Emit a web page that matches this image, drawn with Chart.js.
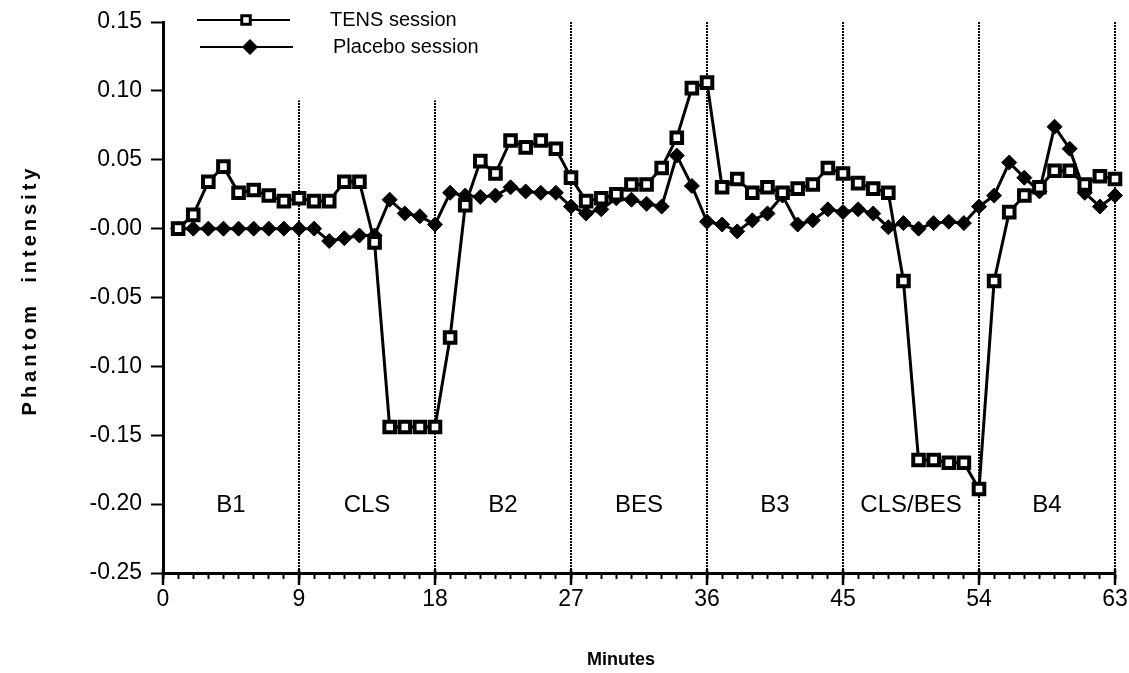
<!DOCTYPE html>
<html>
<head>
<meta charset="utf-8">
<script src="https://cdn.jsdelivr.net/npm/chart.js@4.4.0/dist/chart.umd.min.js"></script>
<style>
  html, body { margin: 0; padding: 0; background: #fff; }
  #wrap { width: 1129px; height: 673px; }
</style>
</head>
<body>
<div id="wrap"><canvas id="chart" width="1129" height="673"></canvas></div>
<script>
// minutes 1..63, one reading per minute
const minutes = [1,2,3,4,5,6,7,8,9,10,11,12,13,14,15,16,17,18,19,20,21,22,23,24,25,26,27,28,29,30,31,32,
  33,34,35,36,37,38,39,40,41,42,43,44,45,46,47,48,49,50,51,52,53,54,55,56,57,58,59,60,61,62,63];

const tensSession = [0.000,0.010,0.034,0.045,0.026,0.028,0.024,0.020,0.022,0.020,0.020,0.034,0.034,-0.010,
  -0.144,-0.144,-0.144,-0.144,-0.079,0.017,0.049,0.040,0.064,0.059,0.064,0.058,0.037,0.020,0.022,0.025,
  0.032,0.032,0.044,0.066,0.102,0.106,0.030,0.036,0.026,0.030,0.026,0.029,0.032,0.044,0.040,0.033,0.029,
  0.026,-0.038,-0.168,-0.168,-0.170,-0.170,-0.189,-0.038,0.012,0.024,0.030,0.042,0.042,0.032,0.038,0.036];

const placeboSession = [0.000,0.000,0.000,0.000,0.000,0.000,0.000,0.000,0.000,0.000,-0.009,-0.007,-0.005,-0.005,
  0.021,0.011,0.009,0.003,0.026,0.024,0.023,0.024,0.030,0.027,0.026,0.026,0.016,0.011,0.014,0.022,
  0.021,0.018,0.016,0.053,0.031,0.005,0.003,-0.002,0.006,0.011,0.024,0.003,0.006,0.014,0.012,0.014,0.011,
  0.001,0.004,0.000,0.004,0.005,0.004,0.016,0.024,0.048,0.037,0.027,0.074,0.058,0.026,0.016,0.024];

// period boundaries and labels
const periodEnds = [9, 18, 27, 36, 45, 54, 63];
const periodTops = [0.093, 0.093, 0.15, 0.15, 0.15, 0.15, 0.15];
const periodLabels = ['B1', 'CLS', 'B2', 'BES', 'B3', 'CLS/BES', 'B4'];
const periodLabelY = -0.201;

const xTickValues = minutes.slice(); xTickValues.unshift(0);
const xMajorTicks = [0, 9, 18, 27, 36, 45, 54, 63];
const xTickLabels = ['0', '9', '18', '27', '36', '45', '54', '63'];
const yTickValues = [0.15, 0.10, 0.05, 0, -0.05, -0.10, -0.15, -0.20, -0.25];
const yTickLabels = ['0.15', '0.10', '0.05', '-0.00', '-0.05', '-0.10', '-0.15', '-0.20', '-0.25'];

const seriesNames = ['TENS session', 'Placebo session'];
const FONT = '"Liberation Sans", Arial, Helvetica, sans-serif';

const toPoints = ys => minutes.map((m, i) => ({ x: m, y: ys[i] }));

const dividerSets = periodEnds.map((m, i) => ({
  label: 'divider' + i,
  data: [{ x: m, y: -0.25 }, { x: m, y: periodTops[i] }],
  borderColor: '#000',
  borderWidth: 2,
  borderDash: [2, 1],
  pointRadius: 0,
  clip: false
}));

const tensStyle = { pointStyle: 'rect', radius: 7.5, borderWidth: 4 };
const placeboStyle = { pointStyle: 'rectRot', radius: 7.5, borderWidth: 1 };

const overlay = {
  id: 'overlay',
  afterDraw(chart) {
    const { ctx, scales: { x, y } } = chart;
    ctx.save();
    ctx.strokeStyle = '#000';
    ctx.fillStyle = '#000';

    // longer ticks at the period boundaries
    ctx.lineWidth = 2.5;
    xMajorTicks.forEach(v => {
      const px = x.getPixelForValue(v);
      ctx.beginPath();
      ctx.moveTo(px, y.bottom - 4);
      ctx.lineTo(px, y.bottom + 12);
      ctx.stroke();
    });

    // period names
    ctx.font = '24px ' + FONT;
    ctx.textAlign = 'center';
    ctx.textBaseline = 'middle';
    periodLabels.forEach((t, i) => {
      const from = i === 0 ? 0 : periodEnds[i - 1];
      const mid = (from + periodEnds[i]) / 2;
      ctx.fillText(t, x.getPixelForValue(mid), y.getPixelForValue(periodLabelY));
    });

    // legend
    const legend = [
      { y: 20, x0: 197, x1: 290, mx: 246, tx: 330, style: { pointStyle: 'rect', radius: 6, borderWidth: 3 }, fill: '#fff' },
      { y: 47, x0: 200, x1: 293, mx: 250, tx: 333, style: { pointStyle: 'rectRot', radius: 7.5, borderWidth: 1 }, fill: '#000' }
    ];
    legend.forEach((l, i) => {
      ctx.lineWidth = 2;
      ctx.strokeStyle = '#000';
      ctx.beginPath();
      ctx.moveTo(l.x0, l.y);
      ctx.lineTo(l.x1, l.y);
      ctx.stroke();
      ctx.fillStyle = l.fill;
      ctx.lineWidth = l.style.borderWidth;
      Chart.helpers.drawPoint(ctx, Object.assign({ rotation: 0 }, l.style), l.mx, l.y);
      ctx.fillStyle = '#000';
      ctx.font = '20px ' + FONT;
      ctx.textAlign = 'left';
      ctx.fillText(seriesNames[i], l.tx, l.y);
    });

    // axis titles
    ctx.font = 'bold 18px ' + FONT;
    ctx.textAlign = 'center';
    ctx.fillText('Minutes', 621, 660);
    ctx.translate(30, 290);
    ctx.rotate(-Math.PI / 2);
    ctx.font = 'bold 20px ' + FONT;
    ctx.letterSpacing = '4px';
    ctx.fillText('Phantom  intensity', 0, 0);
    ctx.restore();
  }
};

new Chart(document.getElementById('chart'), {
  type: 'line',
  data: {
    datasets: [
      {
        label: seriesNames[0],
        data: toPoints(tensSession),
        borderColor: '#000',
        backgroundColor: '#fff',
        borderWidth: 3,
        pointBorderColor: '#000',
        pointBackgroundColor: '#fff',
        pointStyle: tensStyle.pointStyle,
        pointRadius: tensStyle.radius,
        pointBorderWidth: tensStyle.borderWidth,
        tension: 0,
        clip: false
      },
      {
        label: seriesNames[1],
        data: toPoints(placeboSession),
        borderColor: '#000',
        backgroundColor: '#000',
        borderWidth: 3,
        pointBorderColor: '#000',
        pointBackgroundColor: '#000',
        pointStyle: placeboStyle.pointStyle,
        pointRadius: placeboStyle.radius,
        pointBorderWidth: placeboStyle.borderWidth,
        tension: 0,
        clip: false
      },
      ...dividerSets
    ]
  },
  options: {
    responsive: false,
    animation: false,
    layout: { padding: { top: 22, right: 14, left: 0, bottom: 0 } },
    plugins: { legend: { display: false }, tooltip: { enabled: false } },
    scales: {
      x: {
        type: 'linear',
        min: 0,
        max: 63,
        afterBuildTicks: axis => { axis.ticks = xTickValues.map(v => ({ value: v })); },
        afterFit: axis => { axis.height = 100; axis.paddingLeft = 0; axis.paddingRight = 0; },
        ticks: {
          autoSkip: false,
          maxRotation: 0,
          padding: 7,
          color: '#000',
          font: { family: FONT, size: 23 },
          callback: v => { const i = xMajorTicks.indexOf(v); return i >= 0 ? xTickLabels[i] : ''; }
        },
        grid: { drawOnChartArea: false, drawTicks: true, tickLength: 6, tickWidth: 2, tickColor: '#000' },
        border: { color: '#000', width: 3 }
      },
      y: {
        min: -0.25,
        max: 0.15,
        afterBuildTicks: axis => { axis.ticks = yTickValues.map(v => ({ value: v })); },
        afterFit: axis => { axis.width = 163; axis.paddingTop = 0; axis.paddingBottom = 0; },
        ticks: {
          padding: 9,
          color: '#000',
          font: { family: FONT, size: 23 },
          callback: v => {
            const i = yTickValues.findIndex(t => Math.abs(t - v) < 1e-9);
            return i >= 0 ? yTickLabels[i] : '';
          }
        },
        grid: { drawOnChartArea: false, drawTicks: true, tickLength: 12, tickWidth: 2, tickColor: '#000' },
        border: { color: '#000', width: 3 }
      }
    }
  },
  plugins: [overlay]
});
</script>
</body>
</html>
